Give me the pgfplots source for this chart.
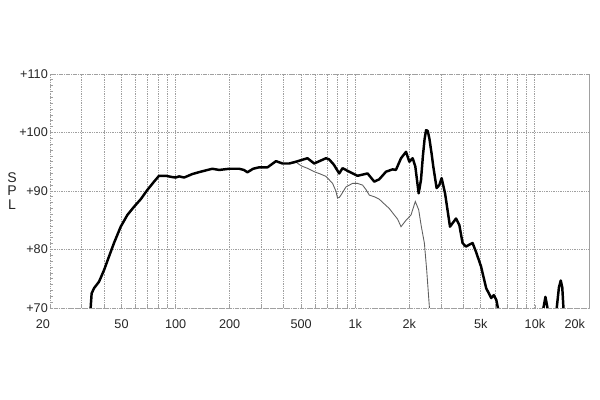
\documentclass[border=0pt]{standalone}
\usepackage{fontspec}
\setmainfont{Liberation Sans}
\usepackage{pgfplots}
\pgfplotsset{compat=1.18}

\definecolor{gridgray}{RGB}{160,160,160}
\definecolor{offaxis}{RGB}{95,95,95}

\begin{document}
\begin{tikzpicture}
% keep the page at the reference's 600x400 proportions (1px = 0.02cm)
\path[use as bounding box] (-1.0cm,-1.84cm) rectangle (11.0cm,6.16cm);
\begin{semilogxaxis}[
  at={(0,0)}, anchor=south west,
  scale only axis, width=10.78cm, height=4.68cm,
  xmin=20, xmax=20000, ymin=70, ymax=110,
  xtick={20,30,40,50,60,70,80,90,100,200,300,400,500,600,700,800,900,
         1000,2000,3000,4000,5000,6000,7000,8000,9000,10000,20000},
  xticklabels={\llap{20},{},{},50,{},{},{},{},100,200,{},{},500,{},{},{},{},
               1k,2k,{},{},5k,{},{},{},{},10k,\llap{20k\hspace{0.08cm}}},
  ytick={70,80,90,100,110},
  yticklabels={+70,+80,+90,+100,+110},
  minor y tick num=9,
  tick align=inside, tick pos=left,
  major tick length=0.06cm, minor tick length=0.06cm,
  tick style={gridgray, line width=0.4pt},
  xmajorgrids, ymajorgrids,
  grid style={gridgray, line width=0.5pt, dash pattern=on 0.5pt off 0.5pt},
  axis line style={gridgray, line width=0.5pt, dash pattern=on 0.5pt off 0.5pt},
  ticklabel style={font=\fontsize{7.2}{8}\selectfont, text=black!85},
  xticklabel style={yshift=-0.1cm},
  yticklabel style={xshift=0.08cm},
  ylabel={\shortstack{S\\[-1pt]P\\[-1pt]L}},
  ylabel style={rotate=-90, at={(axis description cs:0,0.5)}, anchor=center,
                xshift=-0.76cm, font=\fontsize{8}{8}\selectfont, text=black!85},
  clip=true,
]
% thin curve (off-axis)
\addplot[offaxis, line width=0.5pt] coordinates {
(440,94.7) (470,94.9) (500,94.3) (540,93.9) (591,93.3) (640,92.9) (687,92.5)
(748,91.3) (780,90.0) (797,88.8) (815,88.9) (833,89.3) (888,90.7) (966,91.3)
(1030,91.3) (1099,91.0) (1150,90.2) (1197,89.3) (1280,89.0) (1360,88.6)
(1450,87.8) (1547,87.0) (1640,86.0) (1720,85.2) (1798,83.9) (1917,85.0)
(2043,85.9) (2159,88.2) (2254,86.8) (2330,84.0) (2425,81.1) (2498,76.5)
(2585,70.2) (2600,66)
};
% thick curve (on-axis)
\addplot[black, line width=1.4pt, line join=round] coordinates {
(33.5,66) (33.7,70.2) (34.1,72.5) (35.2,73.4) (37.5,74.5) (40,76.5)
(42.6,78.8) (45.4,81.1) (49.5,83.9) (53.9,85.9) (58.7,87.3) (64,88.6)
(69.7,90.2) (75.9,91.6) (80.9,92.6) (88.2,92.6) (95,92.4) (100,92.3)
(104.6,92.5) (111.5,92.3) (124,92.9) (138,93.3) (160,93.8) (175,93.6)
(199,93.8) (226,93.8) (240,93.6) (251,93.2) (270,93.8) (292,94.05)
(325,94.05) (362,95.1) (394,94.7) (429,94.7) (467,95.0) (542,95.6)
(591,94.7) (687,95.6) (716,95.4) (760,94.5) (814,93.0) (850,93.9)
(926,93.3) (1030,92.6) (1171,93.0) (1276,91.6) (1360,92.0) (1483,93.3)
(1614,93.7) (1684,93.6) (1798,95.6) (1917,96.7) (2000,95.0) (2087,95.6)
(2159,94.2) (2254,89.6) (2322,91.9) (2380,96.0) (2430,98.8) (2478,100.4)
(2530,100.3) (2585,99.0) (2663,96.3) (2718,94.2) (2837,90.5) (2936,91.0)
(3025,92.2) (3161,89.6) (3368,83.9) (3500,84.6) (3639,85.3) (3795,84.2)
(3958,81.1) (4133,80.5) (4300,80.8) (4500,81.1) (4700,79.6) (5013,77.1)
(5353,73.4) (5710,71.7) (5905,72.2) (6094,71.4) (6222,70) (6300,66)
(11000,66) (11150,70) (11444,71.9) (11750,70) (11900,66)
(13100,66) (13225,70) (13600,73.5) (13925,74.7) (14200,73.5) (14414,70)
(14600,66)
};
\end{semilogxaxis}
\end{tikzpicture}
\end{document}
